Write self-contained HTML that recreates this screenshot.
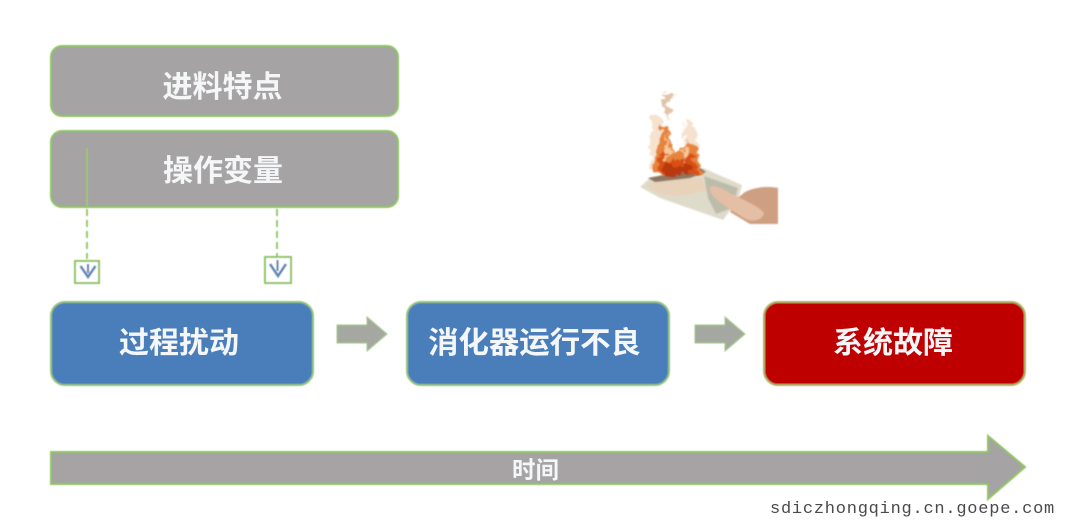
<!DOCTYPE html>
<html lang="zh">
<head>
<meta charset="utf-8">
<style>
html,body{margin:0;padding:0;background:#fff}
body{width:1088px;height:526px;overflow:hidden}
svg{display:block}
.t{font-family:"Liberation Sans","Noto Sans CJK SC",sans-serif;font-weight:700;fill:#f4f6f8;text-anchor:middle}
</style>
</head>
<body>
<svg width="1088" height="526" viewBox="0 0 1088 526" xmlns="http://www.w3.org/2000/svg">
<defs>
<filter id="b1" x="-20%" y="-20%" width="140%" height="140%"><feGaussianBlur stdDeviation="0.9"/></filter>
<filter id="s" x="-5%" y="-5%" width="110%" height="110%"><feGaussianBlur stdDeviation="0.4"/></filter>
<filter id="fl" x="-30%" y="-30%" width="160%" height="160%">
<feTurbulence type="fractalNoise" baseFrequency="0.14" numOctaves="2" seed="4" result="n"/>
<feDisplacementMap in="SourceGraphic" in2="n" scale="14" xChannelSelector="R" yChannelSelector="G"/>
<feGaussianBlur stdDeviation="0.7"/>
</filter>
</defs>
<rect width="1088" height="526" fill="#fff"/>

<g filter="url(#s)">
<rect x="51" y="46" width="347" height="70" rx="11" fill="#a5a3a3" stroke="#8fc462" stroke-width="2"/>
<rect x="51" y="131" width="347" height="76" rx="11" fill="#a5a3a3" stroke="#8fc462" stroke-width="2"/>
<rect x="51" y="302" width="262" height="83" rx="14" fill="#4a7ebb" stroke="#93c47a" stroke-width="2"/>
<rect x="407" y="302" width="262" height="83" rx="14" fill="#4a7ebb" stroke="#93c47a" stroke-width="2"/>
<rect x="764" y="302" width="261" height="83" rx="14" fill="#bf0000" stroke="#a9b56b" stroke-width="2"/>

<line x1="87" y1="148" x2="87" y2="207" stroke="#9ecb72" stroke-width="1.600"/>
<line x1="87" y1="209" x2="87" y2="259" stroke="#8fc462" stroke-width="1.800" stroke-dasharray="7 4"/>
<line x1="277" y1="209" x2="277" y2="256" stroke="#8fc462" stroke-width="1.800" stroke-dasharray="7 4"/>

<rect x="75" y="261" width="24" height="22" fill="#fff" stroke="#8fc462" stroke-width="2"/>
<rect x="265" y="257" width="26" height="26" fill="#fff" stroke="#8fc462" stroke-width="2"/>
<path d="M80.500 266L88 277L95.500 266" fill="none" stroke="#5f86b5" stroke-width="2.600"/>
<line x1="88" y1="264" x2="88" y2="273" stroke="#5f86b5" stroke-width="2.200"/>
<path d="M270 264L278 276L286 264" fill="none" stroke="#5f86b5" stroke-width="2.600"/>
<line x1="277.500" y1="260" x2="277.500" y2="271" stroke="#5f86b5" stroke-width="2.200"/>

<polygon points="337,325 367,325 367,317 387,334 367,351 367,343 337,343" fill="#a5a8a0" stroke="#a3c985" stroke-width="1"/>
<polygon points="695,325 725,325 725,317 745,334 725,351 725,343 695,343" fill="#a5a8a0" stroke="#a3c985" stroke-width="1"/>

<polygon points="51,452 988,452 988,436 1025,467 988,499 988,484 51,484" fill="#a5a3a3" stroke="#8fc462" stroke-width="2"/>
</g>

<text class="t" x="222.500" y="97" font-size="30">进料特点</text>
<text class="t" x="223" y="181" font-size="30">操作变量</text>
<text class="t" x="179" y="353" font-size="30">过程扰动</text>
<text class="t" x="534.500" y="353" font-size="30.400">消化器运行不良</text>
<text class="t" x="893" y="353" font-size="30">系统故障</text>
<text class="t" x="535.500" y="478" font-size="23.500">时间</text>

<g>
<!-- banknote -->
<polygon points="640,187 650,178 703,168 742,185 738,200 723,220 700,212 660,198" fill="#dfdbcb" filter="url(#b1)"/>
<polygon points="645,185 665,180 700,178 708,190 680,196 660,194" fill="#e8d2ba" filter="url(#b1)"/>
<polygon points="704,176 738,188 732,208 716,214 708,198" fill="#bdbcaa" filter="url(#b1)"/>
<polygon points="648,178 700,168 706,172 690,178 655,182" fill="#8e7660" filter="url(#b1)"/>
<!-- hand -->
<path d="M745,192 C755,187 768,186 778,188 L778,224 L750,224 L730,212 L735,200Z" fill="#cf9f82" filter="url(#b1)"/>
<path d="M710,187 C716,184 724,190 736,196 C750,203 762,208 764,214 C760,222 750,222 744,218 C732,210 708,198 710,187Z" fill="#e4bfa6" filter="url(#b1)"/>
<!-- flames -->
<g filter="url(#fl)">
<path d="M652,115 L664,122 L668,150 L664,170 L650,170Z" fill="#f2d9bf" opacity=".75"/>
<path d="M664,92 L678,96 L668,100 L670,120 L662,108Z" fill="#dcb898" opacity=".85"/>
<path d="M686,122 L694,124 L700,170 L682,170Z" fill="#f3dcc4" opacity=".85"/>
<path d="M652,175 L656,150 L663,122 L670,138 L674,155 L684,148 L690,140 L697,152 L702,172Z" fill="#e8833a"/>
<path d="M656,176 L662,150 L668,162 L676,158 L684,160 L692,152 L698,172Z" fill="#d84f17"/>
<path d="M660,176 L668,158 L674,170 L684,162 L692,174Z" fill="#b9390c"/>
<path d="M665,135 L671,150 L666,160Z M681,150 L690,148 L686,162Z" fill="#f6c89a"/>
</g>
</g>

<text x="770" y="513" font-family="'Liberation Mono',monospace" font-size="17" letter-spacing="0.760" fill="#4a4a4a">sdiczhongqing.cn.goepe.com</text>
</svg>
</body>
</html>
